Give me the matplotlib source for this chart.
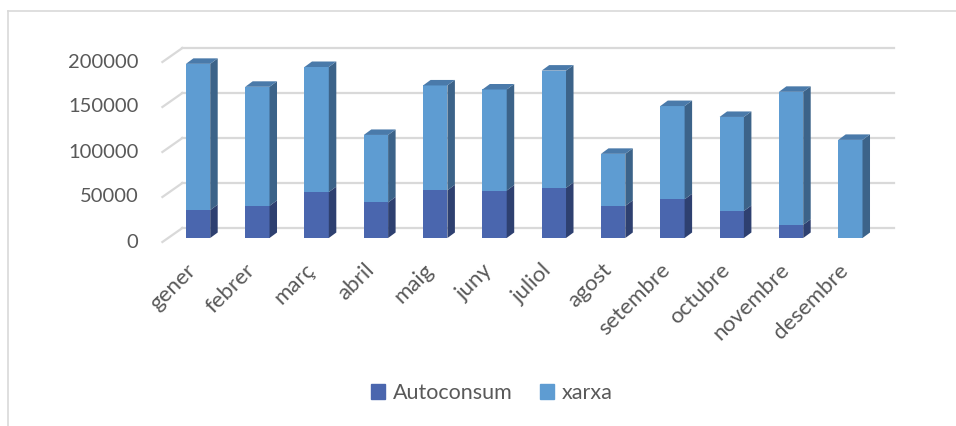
import matplotlib
matplotlib.use("Agg")
import matplotlib.pyplot as plt
from matplotlib.patches import Polygon, Patch
from matplotlib.lines import Line2D
from matplotlib.transforms import offset_copy

mesos = ['gener', 'febrer', 'març', 'abril', 'maig', 'juny', 'juliol',
         'agost', 'setembre', 'octubre', 'novembre', 'desembre']
autoconsum = [31000, 35700, 51000, 39500, 53000, 52700, 55600,
              35700, 43000, 30000, 14700, 0]
total = [193500, 168000, 190000, 114500, 169500, 165000, 186000,
         93500, 146600, 134500, 162400, 109000]
xarxa = [t - a for t, a in zip(total, autoconsum)]
y_ticks = [0, 50000, 100000, 150000, 200000]

plt.rcParams['font.family'] = ['Lato', 'DejaVu Sans']

W, H = 956, 426
fig = plt.figure(figsize=(W / 100, H / 100), dpi=100)
# front plane of the bars, in pixels from the top left
left, right, y0, ytop = 168.4, 880.0, 238.0, 58.0
ax = fig.add_axes([left / W, (H - y0) / H, (right - left) / W, (y0 - ytop) / H])
ax.set_xlim(-0.5, len(mesos) - 0.5)
ax.set_ylim(0, 200000)
ax.axis('off')

grey = '#d9d9d9'
txt = '#595959'
c_auto, c_auto_side = '#4a66ae', '#2e4070'
c_xarxa, c_xarxa_side, c_xarxa_top = '#5e9cd2', '#3c6389', '#4a7aaa'

# pixel offsets -> data units
px_x = (right - left) / len(mesos)
px_y = (y0 - ytop) / 200000


def d(dx, dy):
    return dx / px_x, dy / px_y


# back wall gridlines and floor diagonals
wall = offset_copy(ax.transData, fig, x=14, y=10, units='dots')
for v in y_ticks:
    ax.plot([-0.5, len(mesos) - 0.5], [v, v], color=grey, lw=1.6,
            transform=wall, clip_on=False, zorder=1)
    bx, by = d(14, 10)
    fx, fy = d(-6, -4)
    ax.plot([-0.5 + bx, -0.5 + fx], [v + by, v + fy], color=grey, lw=1.6,
            clip_on=False, zorder=1)
    ax.text(-0.5, v, str(v), transform=offset_copy(ax.transData, fig, x=-30, y=-4, units='dots'),
            ha='right', va='center', fontsize=14.5, color=txt)

x = list(range(len(mesos)))
w = 0.41
ax.bar(x, autoconsum, width=w, color=c_auto, zorder=3, clip_on=False)
ax.bar(x, xarxa, bottom=autoconsum, width=w, color=c_xarxa, zorder=3, clip_on=False)

ddx, ddy = d(7.5, 5.5)
for i in x:
    xr = i + w / 2
    xl = i - w / 2
    a, t = autoconsum[i], total[i]
    if a > 0:
        ax.add_patch(Polygon([(xr, 0), (xr, a), (xr + ddx, a + ddy), (xr + ddx, ddy)],
                             closed=True, color=c_auto_side, lw=0, zorder=3, clip_on=False))
    ax.add_patch(Polygon([(xr, a), (xr, t), (xr + ddx, t + ddy), (xr + ddx, a + ddy)],
                         closed=True, color=c_xarxa_side, lw=0, zorder=3, clip_on=False))
    ax.add_patch(Polygon([(xl, t), (xr, t), (xr + ddx, t + ddy), (xl + ddx, t + ddy)],
                         closed=True, color=c_xarxa_top, lw=0, zorder=3, clip_on=False))
    ax.text(i, 0, mesos[i], rotation=45, rotation_mode='anchor',
            transform=offset_copy(ax.transData, fig, x=-5, y=-29, units='dots'),
            ha='right', va='center', fontsize=16, color=txt)

# chart frame
fig.add_artist(Line2D([8 / W, 8 / W], [0, 1 - 11 / H], color=grey, lw=1.2))
fig.add_artist(Line2D([8 / W, 1], [1 - 11 / H, 1 - 11 / H], color=grey, lw=1.2))

handles = [Patch(color=c_auto, label='Autoconsum'), Patch(color=c_xarxa, label='xarxa')]
fig.legend(handles=handles, loc='center', bbox_to_anchor=(492 / W, 1 - 393 / H), ncol=2,
           frameon=False, fontsize=15.5, labelcolor=txt, handlelength=0.65, handleheight=0.65,
           handletextpad=0.35, columnspacing=1.3)

fig.savefig('out.png', dpi=100)
